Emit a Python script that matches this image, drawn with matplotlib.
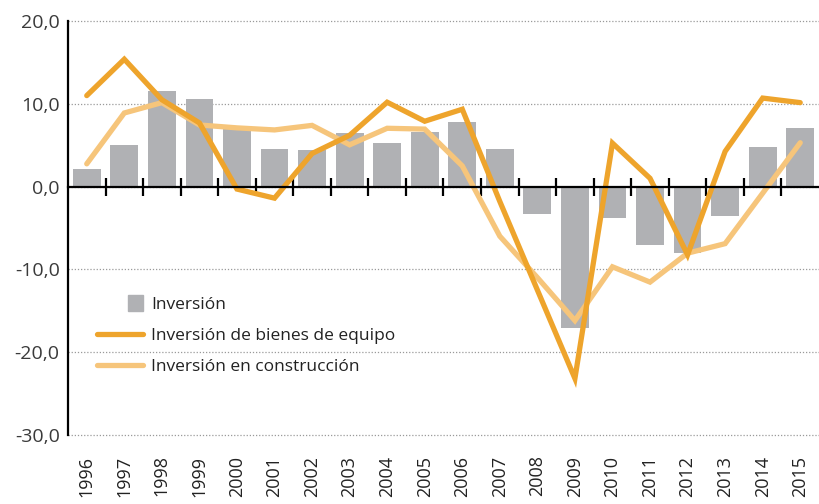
import matplotlib
matplotlib.use("Agg")
import matplotlib.pyplot as plt
import matplotlib.patches as mpatches
from matplotlib.legend_handler import HandlerPatch
from matplotlib.lines import Line2D
import numpy as np

plt.rcParams['font.family'] = ['Open Sans', 'DejaVu Sans']

# Data (% variation)
years = [str(y) for y in range(1996, 2016)]
inversion = [2.1, 5.0, 11.6, 10.6, 7.0, 4.55, 4.4, 6.5, 5.3, 6.65,
             7.8, 4.55, -3.3, -17.05, -3.75, -7.1, -8.0, -3.5, 4.8, 7.1]
bienes_equipo = [11.0, 15.4, 10.5, 7.7, -0.3, -1.4, 4.0, 6.2, 10.2, 7.9,
                 9.35, -1.8, -12.5, -23.2, 5.25, 1.0, -8.25, 4.25, 10.7, 10.15]
construccion = [2.75, 8.9, 10.15, 7.45, 7.1, 6.85, 7.4, 5.05, 7.05, 6.95,
                2.5, -6.0, -11.0, -16.2, -9.7, -11.55, -8.05, -6.9, -0.8, 5.3]
yticks = [20, 10, 0, -10, -20, -30]

col_bar = '#b0b1b4'
col_equipo = '#eea42c'
col_constr = '#f6c57b'
col_text = '#3a3a3a'

fig = plt.figure(figsize=(8.19, 5.04), dpi=100)
ax = fig.add_axes([0.083, 0.1375, 0.917, 0.8205])

x = np.arange(len(years))
ax.bar(x, inversion, width=0.74, color=col_bar, zorder=2)
ax.plot(x, bienes_equipo, color=col_equipo, lw=3.8, solid_joinstyle='miter',
        solid_capstyle='round', zorder=4)
ax.plot(x, construccion, color=col_constr, lw=3.8, solid_joinstyle='miter',
        solid_capstyle='round', zorder=3)

ax.set_xlim(-0.5, len(years) - 0.5)
ax.set_ylim(-30, 20)

# y axis
ax.set_yticks(yticks)
ax.set_yticklabels([f"{v:.1f}".replace('.', ',') for v in yticks],
                   fontsize=14, color=col_text)
ax.tick_params(axis='y', length=0, pad=6)
ax.yaxis.grid(True, linestyle=(0, (1, 1.5)), color='#9a9a9a', lw=0.9, zorder=0)
ax.set_axisbelow(True)
for gl in ax.get_ygridlines():
    gl.set_clip_on(False)

for s in ['top', 'right']:
    ax.spines[s].set_visible(False)
ax.spines['left'].set_linewidth(1.6)
ax.spines['left'].set_zorder(5)

# category axis crossing at zero, ticks between categories
ax.spines['bottom'].set_position(('data', 0))
ax.spines['bottom'].set_linewidth(1.6)
ax.spines['bottom'].set_zorder(5)
ax.set_xticks(x)
ax.set_xticklabels([])
ax.tick_params(axis='x', which='major', length=0)
ax.set_xticks(np.arange(0.5, len(years) - 1, 1), minor=True)
ax.tick_params(axis='x', which='minor', direction='inout', length=13, width=1.6)

# year labels at the bottom
sec = ax.secondary_xaxis('bottom')
sec.set_xticks(x)
sec.set_xticklabels(years, rotation=90, fontsize=13, color='#222222')
sec.tick_params(length=0, pad=15)
sec.spines['bottom'].set_visible(False)


def square_right(legend, orig_handle, xdescent, ydescent, width, height, fontsize):
    s = height * 1.25
    return mpatches.Rectangle((width - xdescent - s, -ydescent + (height - s) / 2), s, s)


handles = [mpatches.Patch(color=col_bar),
           Line2D([], [], color=col_equipo, lw=3.8, solid_capstyle='round'),
           Line2D([], [], color=col_constr, lw=3.8, solid_capstyle='round')]
labels = ['Inversión', 'Inversión de bienes de equipo', 'Inversión en construcción']
leg = ax.legend(handles, labels, loc='upper left', bbox_to_anchor=(0.038, 0.333),
                frameon=False, fontsize=12.5, handlelength=2.7, handletextpad=0.45,
                labelspacing=0.85, borderpad=0, borderaxespad=0,
                handler_map={mpatches.Patch: HandlerPatch(patch_func=square_right)})
for t in leg.get_texts():
    t.set_color('#222222')

fig.savefig('out.png', dpi=100)
